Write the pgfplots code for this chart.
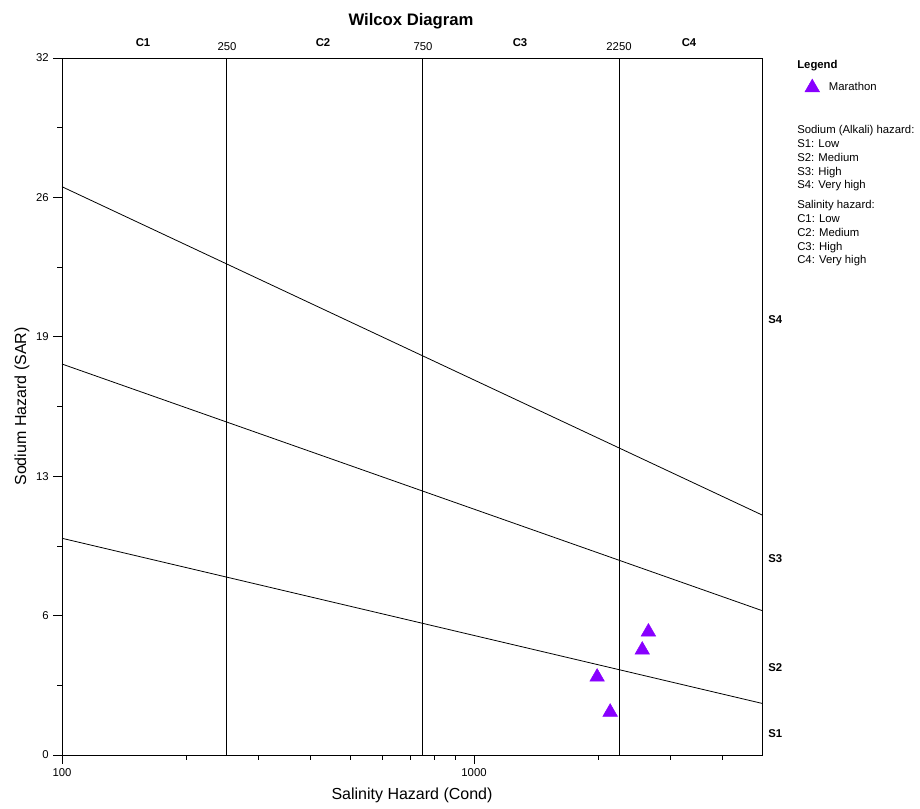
\documentclass[border=0pt]{standalone}
\usepackage{pgfplots}
\pgfplotsset{compat=1.18}
\usepackage{fontspec}
\setmainfont{Liberation Sans}
\definecolor{mpurple}{RGB}{136,0,255}
\begin{document}
\begin{tikzpicture}
\begin{axis}[
  name=ax,
  scale only axis,
  width=525pt, height=522.75pt,
  xmode=log, xmin=100, xmax=5000,
  ymin=0, ymax=32,
  xtick={100,1000}, xticklabels={100,1000},
  minor xtick={200,300,400,500,600,700,800,900,2000,3000,4000},
  ytick={0,6.4,12.8,19.2,25.6,32}, yticklabels={0,6,13,19,26,32},
  minor ytick={3.2,9.6,16,22.4,28.8},
  xtick pos=bottom, ytick pos=left,
  tick align=outside,
  major tick length=6.5pt, minor tick length=3.5pt,
  every tick/.style={black, line width=0.6pt},
  axis line style={line width=0.6pt},
  tick label style={font=\fontsize{8.5}{10}\selectfont},
  /pgf/number format/assume math mode=true,
  xlabel={Salinity Hazard (Cond)},
  ylabel={Sodium Hazard (SAR)},
  label style={font=\fontsize{12}{14}\selectfont},
  xlabel style={yshift=-2pt},
  ylabel style={yshift=-2pt},
  legend style={draw=none, fill=none, at={(1.061,0.958)}, anchor=west,
    font=\fontsize{8.5}{10}\selectfont, inner sep=0pt},
  legend cell align=left,
  clip=false,
]
% category boundaries
\addplot[black, line width=0.6pt, forget plot] coordinates {(250,0) (250,32)};
\addplot[black, line width=0.6pt, forget plot] coordinates {(750,0) (750,32)};
\addplot[black, line width=0.6pt, forget plot] coordinates {(2250,0) (2250,32)};
% sodium hazard lines
\addplot[black, line width=0.6pt, forget plot] coordinates {(100,9.95) (5000,2.37)};
\addplot[black, line width=0.6pt, forget plot] coordinates {(100,17.95) (5000,6.63)};
\addplot[black, line width=0.6pt, forget plot] coordinates {(100,26.09) (5000,11.02)};
% samples
\addplot[only marks, mark=triangle*, mark size=6.3pt, mpurple, mark options={fill=mpurple, draw=mpurple}]
  coordinates {(1990,3.58) (2140,1.97) (2560,4.82) (2650,5.65)};
\addlegendentry{\hspace{5pt}Marathon}
\end{axis}
\begin{scope}[shift={(-46.5pt,566.25pt)}, x=0.75pt, y=-0.75pt, font=\fontsize{8.5}{10}\selectfont]
\node[font=\fontsize{12.5}{14}\selectfont\bfseries] at (411,21) {Wilcox Diagram};
\node[font=\fontsize{8.5}{10}\selectfont\bfseries] at (143,43) {C1};
\node[font=\fontsize{8.5}{10}\selectfont\bfseries] at (323,43) {C2};
\node[font=\fontsize{8.5}{10}\selectfont\bfseries] at (520,43) {C3};
\node[font=\fontsize{8.5}{10}\selectfont\bfseries] at (689,43) {C4};
\node at (227,47) {250};
\node at (423,47) {750};
\node at (619,47) {2250};
\node[font=\fontsize{8.5}{10}\selectfont\bfseries, anchor=west, inner sep=0pt] at (768,320) {S4};
\node[font=\fontsize{8.5}{10}\selectfont\bfseries, anchor=west, inner sep=0pt] at (768,559) {S3};
\node[font=\fontsize{8.5}{10}\selectfont\bfseries, anchor=west, inner sep=0pt] at (768,668) {S2};
\node[font=\fontsize{8.5}{10}\selectfont\bfseries, anchor=west, inner sep=0pt] at (768,734) {S1};
\node[font=\fontsize{8.5}{10}\selectfont\bfseries, anchor=west, inner sep=0pt] at (797,66) {Legend};
\node[anchor=north west, inner sep=0pt, align=left, font=\fontsize{8.5}{10.4}\selectfont] at (797,125) {Sodium (Alkali) hazard:\\S1: Low\\S2: Medium\\S3: High\\S4: Very high};
\node[anchor=north west, inner sep=0pt, align=left, font=\fontsize{8.5}{10.4}\selectfont] at (797,200) {Salinity hazard:\\C1: Low\\C2: Medium\\C3: High\\C4: Very high};
\end{scope}
\pgfresetboundingbox
\path[use as bounding box] (-46.5pt,-39.75pt) rectangle (643.5pt,566.25pt);
\end{tikzpicture}
\end{document}
